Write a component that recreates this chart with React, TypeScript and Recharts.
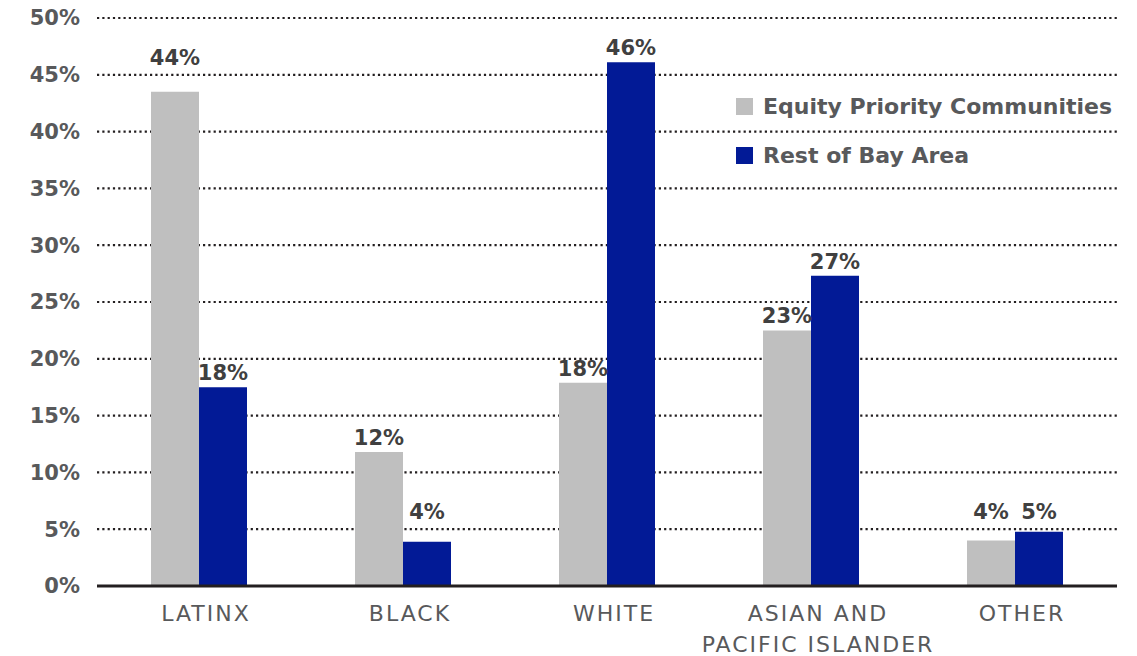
import { Bar, BarChart, CartesianGrid, LabelList, XAxis, YAxis } from "recharts"

const categories = ["LATINX", "BLACK", "WHITE", "ASIAN AND\nPACIFIC ISLANDER", "OTHER"]
const equityPriority = [43.5, 11.8, 17.9, 22.5, 4.0]
const restOfBayArea = [17.5, 3.9, 46.1, 27.3, 4.78]
const yTicks = [0, 5, 10, 15, 20, 25, 30, 35, 40, 45, 50]

const seriesNames = ["Equity Priority Communities", "Rest of Bay Area"]
const GRAY = "#BFBFBF"
const BLUE = "#021A96"
const TEXT = "#58595B"
const FONT = "'DejaVu Sans', sans-serif"

const data = categories.map((c, i) => ({
  category: c,
  epc: equityPriority[i],
  rest: restOfBayArea[i],
}))

const XTick = (props: any) => {
  const { x, y, payload } = props
  const lines = String(payload.value).split("\n")
  const cx = x + 7
  return (
    <text x={cx} y={y} textAnchor="middle" fill={TEXT} fontSize={22} letterSpacing={2} fontFamily={FONT}>
      {lines.map((l, i) => (
        <tspan key={i} x={cx} dy={i === 0 ? 33 : 31}>
          {l}
        </tspan>
      ))}
    </text>
  )
}

// label sits just above the bar, but hops over a gridline it would cross
const BarLabel = (props: any) => {
  const { x, y, width, height, value } = props
  const base = y + height
  const perUnit = value ? height / value : 0
  let bottom = y - 7
  const textH = 16
  for (const t of yTicks) {
    const gy = base - t * perUnit
    if (t > 0 && gy > bottom - textH + 1 && gy < bottom + 6) {
      bottom = gy - 10
      break
    }
  }
  return (
    <text x={x + width / 2} y={bottom} textAnchor="middle" fill="#404040" fontSize={21} fontWeight={700} fontFamily={FONT}>
      {`${Math.round(value)}%`}
    </text>
  )
}

export default function App() {
  return (
    <div style={{ position: "absolute", left: 0, top: 0, width: 1137, height: 656, background: "#fff" }}>
      <BarChart width={1137} height={656} data={data} margin={{ top: 18, right: 20, left: 0, bottom: 0 }} barGap={0}>
        <CartesianGrid vertical={false} stroke="#231F20" strokeWidth={2.2} strokeDasharray="2.2 3.1" />
        <XAxis
          dataKey="category"
          height={70}
          tickSize={0}
          tickLine={false}
          axisLine={{ stroke: "#231F20", strokeWidth: 3 }}
          tick={<XTick />}
          interval={0}
        />
        <YAxis
          domain={[0, 50]}
          ticks={yTicks}
          interval={0}
          width={97}
          tickSize={0}
          tickMargin={17}
          axisLine={false}
          tickLine={false}
          tickFormatter={v => `${v}%`}
          tick={{ fill: TEXT, fontSize: 21, fontWeight: 700, fontFamily: FONT }}
        />
        <Bar dataKey="epc" name={seriesNames[0]} fill={GRAY} barSize={48} isAnimationActive={false}>
          <LabelList dataKey="epc" content={<BarLabel />} />
        </Bar>
        <Bar dataKey="rest" name={seriesNames[1]} fill={BLUE} barSize={48} isAnimationActive={false}>
          <LabelList dataKey="rest" content={<BarLabel />} />
        </Bar>
      </BarChart>
      <div style={{ position: "absolute", left: 736, top: 82, fontFamily: FONT }}>
        {seriesNames.map((n, i) => (
          <div key={n} style={{ display: "flex", alignItems: "center", height: 49 }}>
            <span style={{ width: 17, height: 17, background: i === 0 ? GRAY : BLUE, marginRight: 10 }} />
            <span style={{ fontSize: 22, fontWeight: 700, color: TEXT }}>{n}</span>
          </div>
        ))}
      </div>
    </div>
  )
}
